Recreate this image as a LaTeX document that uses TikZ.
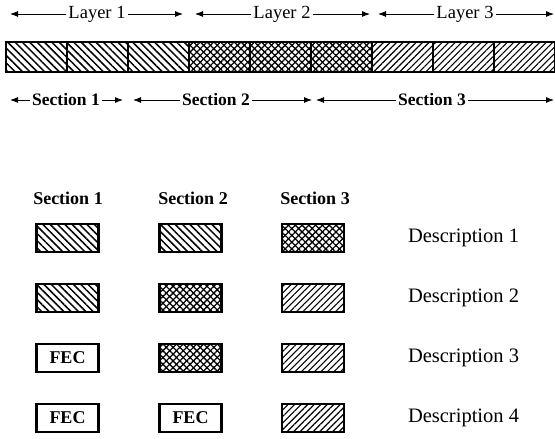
\documentclass[tikz,border=0pt]{standalone}
\usepackage{fontspec}
\setmainfont{Liberation Serif}
\usetikzlibrary{arrows.meta}
\usetikzlibrary{patterns.meta}

\begin{document}
\begin{tikzpicture}
  [x=1pt, y=-1pt, every node/.style={inner sep=0pt, outer sep=0pt}]
  \tikzset{span/.style={-{Latex[length=8pt,width=6pt]}, line width=0.9pt}}
  \tikzset{lyr/.style={font=\fontsize{18.5}{20}\selectfont, inner xsep=2pt}}
  \tikzset{sec/.style={font=\fontsize{17.5}{20}\selectfont\bfseries, inner xsep=2pt}}
  \tikzset{head/.style={font=\fontsize{18}{20}\selectfont\bfseries}}
  \tikzset{desc/.style={font=\fontsize{20.5}{22}\selectfont, anchor=west}}
  \tikzset{cell/.style={draw, line width=1.6pt, minimum width=61pt, minimum height=30pt}}
  \tikzset{key/.style={draw, line width=2.2pt, minimum width=62pt, minimum height=28pt, font=\fontsize{18}{20}\selectfont\bfseries}}
  \tikzset{back/.style={pattern={Lines[angle=-45,distance=5.2pt,line width=1.5pt]}}}
  \tikzset{fwd/.style={pattern={Lines[angle=45,distance=4.6pt,line width=1.1pt]}}}
  \tikzset{cross/.style={pattern={Lines[angle=45,distance=4.8pt,line width=1.3pt]}, postaction={pattern={Lines[angle=-45,distance=4.8pt,line width=1.3pt]}}}}

  \useasboundingbox (0,0) rectangle (555,439);

  % Layers
  \node[lyr] (L1) at (97,14) {Layer 1};
  \node[lyr] (L2) at (282,14) {Layer 2};
  \node[lyr] (L3) at (465,14) {Layer 3};
  \coordinate (L1a) at (10,14);  \coordinate (L1b) at (183,14);
  \coordinate (L2a) at (195,14); \coordinate (L2b) at (370,14);
  \coordinate (L3a) at (378,14); \coordinate (L3b) at (554,14);
  \draw[span] (L1.west) -- (L1a);
  \draw[span] (L1.east) -- (L1b);
  \draw[span] (L2.west) -- (L2a);
  \draw[span] (L2.east) -- (L2b);
  \draw[span] (L3.west) -- (L3a);
  \draw[span] (L3.east) -- (L3b);

  % Bar
  \node[cell, back] (C1) at (36.5,57) {};
  \node[cell, back] (C2) at (97.5,57) {};
  \node[cell, back] (C3) at (158.5,57) {};
  \node[cell, cross] (C4) at (219.5,57) {};
  \node[cell, cross] (C5) at (280.5,57) {};
  \node[cell, cross] (C6) at (341.5,57) {};
  \node[cell, fwd] (C7) at (402.5,57) {};
  \node[cell, fwd] (C8) at (463.5,57) {};
  \node[cell, fwd] (C9) at (524.5,57) {};

  % Sections
  \node[sec] (S1) at (66,100) {Section 1};
  \node[sec] (S2) at (216,100) {Section 2};
  \node[sec] (S3) at (432,100) {Section 3};
  \coordinate (S1a) at (10,100);  \coordinate (S1b) at (123,100);
  \coordinate (S2a) at (133,100); \coordinate (S2b) at (312,100);
  \coordinate (S3a) at (316,100); \coordinate (S3b) at (554,100);
  \draw[span] (S1.west) -- (S1a);
  \draw[span] (S1.east) -- (S1b);
  \draw[span] (S2.west) -- (S2a);
  \draw[span] (S2.east) -- (S2b);
  \draw[span] (S3.west) -- (S3a);
  \draw[span] (S3.east) -- (S3b);

  % Key
  \node[head] (H1) at (68,198) {Section 1};
  \node[head] (H2) at (193,198) {Section 2};
  \node[head] (H3) at (315,198) {Section 3};

  \node[key, back] (K11) at (67.5,238) {};
  \node[key, back] (K12) at (190.5,238) {};
  \node[key, cross] (K13) at (313,238) {};
  \node[desc] (D1) at (408,238) {Description 1};

  \node[key, back] (K21) at (67.5,298) {};
  \node[key, cross] (K22) at (190.5,298) {};
  \node[key, fwd] (K23) at (313,298) {};
  \node[desc] (D2) at (408,298) {Description 2};

  \node[key] (K31) at (67.5,358) {FEC};
  \node[key, cross] (K32) at (190.5,358) {};
  \node[key, fwd] (K33) at (313,358) {};
  \node[desc] (D3) at (408,358) {Description 3};

  \node[key] (K41) at (67.5,418) {FEC};
  \node[key] (K42) at (190.5,418) {FEC};
  \node[key, fwd] (K43) at (313,418) {};
  \node[desc] (D4) at (408,418) {Description 4};
\end{tikzpicture}
\end{document}
